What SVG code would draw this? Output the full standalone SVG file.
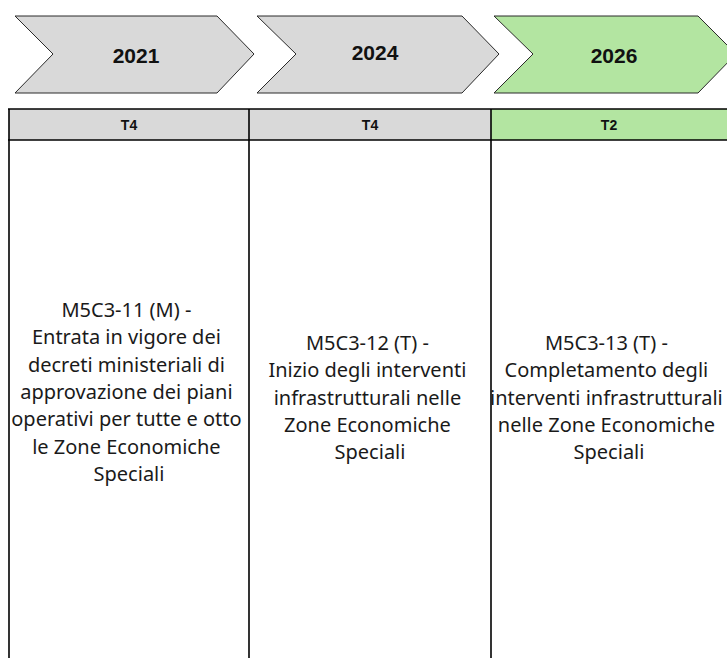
<svg xmlns="http://www.w3.org/2000/svg" width="727" height="658" viewBox="0 0 727 658">
<style>
.chev{stroke:#2a2a2a;stroke-width:1;stroke-linejoin:miter}
.grey{fill:#d9d9d9}
.green{fill:#b3e5a1}
.year{font-family:"Liberation Sans",Arial,sans-serif;font-weight:bold;font-size:21px;fill:#111;text-anchor:middle}
.hdr{font-family:"Liberation Sans",Arial,sans-serif;font-weight:bold;font-size:14px;fill:#111;text-anchor:middle}
.body{font-family:"Noto Sans","Open Sans",sans-serif;font-size:20px;fill:#1a1a1a;text-anchor:middle}
.grid{stroke:#000;stroke-width:1.6;fill:none}
</style>
<rect width="727" height="658" fill="#fff"/>
<g id="chevron-2021">
<polygon class="chev grey" points="15,16 217,16 254,54 217,93 15,93 53,54"/>
<text class="year" x="136" y="63">2021</text>
</g>
<g id="chevron-2024">
<polygon class="chev grey" points="257,16 462,16 499,54 462,93 257,93 296,54"/>
<text class="year" x="375" y="60">2024</text>
</g>
<g id="chevron-2026">
<polygon class="chev green" points="494,16 698,16 736,54 698,93 494,93 533,54"/>
<text class="year" x="614" y="63">2026</text>
</g>
<g id="table-header">
<rect class="grey" x="9" y="109" width="240" height="31"/>
<rect class="grey" x="249" y="109" width="242" height="31"/>
<rect class="green" x="491" y="109" width="236" height="31"/>
<text class="hdr" x="129" y="129.5">T4</text>
<text class="hdr" x="370" y="129.5">T4</text>
<text class="hdr" x="609" y="129.5">T2</text>
</g>
<g id="table-grid">
<line class="grid" x1="8" y1="109" x2="727" y2="109"/>
<line class="grid" x1="8" y1="140" x2="727" y2="140"/>
<line class="grid" x1="9" y1="109" x2="9" y2="658"/>
<line class="grid" x1="249" y1="109" x2="249" y2="658"/>
<line class="grid" x1="491" y1="109" x2="491" y2="658" stroke="#333"/>
</g>
<g id="milestone-M5C3-11">
<text class="body" x="129">
<tspan x="129" y="317">M5C3-11 (M) -</tspan>
<tspan x="129" y="344.3">Entrata in vigore dei</tspan>
<tspan x="129" y="371.6">decreti ministeriali di</tspan>
<tspan x="129" y="398.9">approvazione dei piani</tspan>
<tspan x="129" y="426.2">operativi per tutte e otto</tspan>
<tspan x="129" y="453.5">le Zone Economiche</tspan>
<tspan x="129" y="480.8">Speciali</tspan>
</text>
</g>
<g id="milestone-M5C3-12">
<text class="body" x="370">
<tspan x="370" y="350">M5C3-12 (T) -</tspan>
<tspan x="370" y="377.3">Inizio degli interventi</tspan>
<tspan x="370" y="404.6">infrastrutturali nelle</tspan>
<tspan x="370" y="431.9">Zone Economiche</tspan>
<tspan x="370" y="459.2">Speciali</tspan>
</text>
</g>
<g id="milestone-M5C3-13">
<text class="body" x="609">
<tspan x="609" y="350">M5C3-13 (T) -</tspan>
<tspan x="609" y="377.3">Completamento degli</tspan>
<tspan x="609" y="404.6">interventi infrastrutturali</tspan>
<tspan x="609" y="431.9">nelle Zone Economiche</tspan>
<tspan x="609" y="459.2">Speciali</tspan>
</text>
</g>
</svg>
